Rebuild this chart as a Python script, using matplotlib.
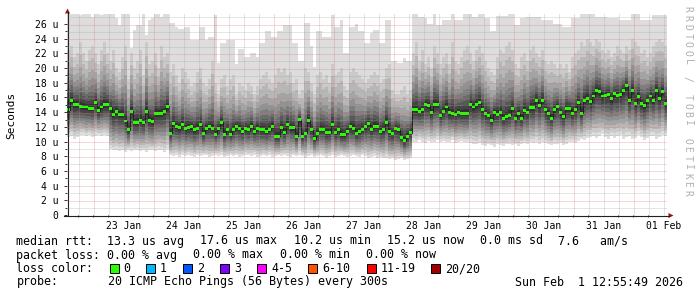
import numpy as np
import matplotlib
matplotlib.use('Agg')
import matplotlib.pyplot as plt
from matplotlib.patches import Rectangle, Polygon
from matplotlib.lines import Line2D

W, H = 697, 297
MONO = 'DejaVu Sans Mono'

# time in days since 22 Jan 2026 00:00, one column every 1.2 h
t_start = 0.5614
step = 0.05

median_us = [
    14.3, 15.6, 15.0, 15.0, 14.8, 14.7, 14.7, 14.55, 14.55, 15.3,
    14.2, 14.7, 15.0, 15.0, 14.5, 13.7, 14.1, 13.7, 13.7, 12.8,
    11.6, 14.1, 12.6, 12.6, 12.9, 12.6, 14.1, 12.9, 12.7, 13.8,
    13.8, 13.8, 14.1, 14.8, 11.1, 12.4, 12.1, 11.9, 12.3, 11.75,
    11.9, 12.0, 11.6, 11.8, 12.3, 11.1, 11.8, 12.0, 11.8, 11.0,
    11.8, 12.6, 11.0, 11.6, 11.0, 11.6, 12.1, 11.8, 11.4, 11.8,
    11.6, 12.1, 11.4, 11.8, 11.6, 11.6, 11.4, 11.6, 12.1, 10.75,
    10.7, 11.9, 11.2, 12.3, 11.9, 11.85, 10.75, 13.0, 10.7, 11.1,
    12.9, 11.6, 10.4, 11.05, 11.7, 11.7, 11.2, 11.2, 12.3, 11.2,
    11.6, 10.9, 10.9, 11.4, 12.0, 11.8, 11.1, 11.4, 11.7, 12.0,
    12.4, 11.7, 12.1, 12.1, 11.4, 11.6, 12.65, 11.4, 11.05, 11.8,
    11.6, 10.6, 10.1, 10.7, 11.2, 14.4, 14.4, 14.1, 14.3, 15.1,
    14.95, 14.0, 15.1, 15.1, 13.6, 14.1, 14.7, 13.9, 13.8, 13.7,
    14.0, 13.8, 13.8, 13.8, 15.1, 14.7, 15.0, 15.3, 14.3, 13.85,
    13.6, 12.9, 13.9, 13.7, 13.9, 13.2, 13.4, 13.6, 14.5, 13.2,
    13.85, 13.2, 14.2, 14.0, 14.65, 14.65, 15.65, 14.9, 15.65, 14.3,
    13.85, 13.2, 14.3, 14.75, 13.9, 13.4, 14.55, 14.55, 13.85, 14.3,
    15.3, 13.85, 15.65, 15.9, 15.4, 16.2, 17.0, 16.85, 16.2, 16.3,
    16.4, 15.8, 16.5, 16.3, 16.4, 17.0, 17.6, 15.65, 17.0, 15.2,
    16.1, 15.2, 14.9, 15.6, 16.2, 15.65, 17.0, 15.85, 16.75, 15.2,
]

min_us = [
    10.6, 10.8, 10.4, 10.6, 10.9, 10.9, 10.7, 10.9, 10.6, 10.8,
    10.9, 10.8, 10.9, 10.7, 9.0, 8.8, 8.9, 8.7, 8.8, 8.6,
    8.9, 8.7, 8.8, 8.9, 8.7, 8.8, 8.6, 8.9, 8.8, 8.7,
    8.9, 8.8, 8.6, 9.0, 8.1, 8.0, 8.2, 7.9, 8.1, 8.0,
    8.2, 8.0, 7.9, 8.1, 8.0, 8.2, 8.1, 7.9, 8.0, 8.2,
    8.0, 8.1, 7.9, 8.0, 8.2, 8.0, 8.1, 7.9, 8.0, 8.2,
    8.1, 8.0, 8.2, 7.9, 8.0, 8.1, 8.0, 8.2, 7.9, 8.0,
    8.1, 8.0, 8.2, 8.0, 7.9, 8.1, 8.0, 8.2, 8.0, 7.8,
    8.0, 8.1, 7.9, 8.0, 8.1, 8.0, 7.8, 8.0, 8.1, 7.9,
    8.0, 8.2, 8.0, 7.9, 8.0, 8.1, 8.0, 7.9, 8.1, 8.0,
    7.7, 7.9, 8.0, 7.8, 7.9, 7.7, 7.8, 7.6, 7.7, 7.5,
    7.6, 7.8, 7.5, 7.6, 7.7, 10.0, 9.9, 10.2, 10.0, 9.8,
    10.1, 10.0, 9.9, 10.2, 10.0, 10.1, 9.9, 10.0, 10.2, 9.8,
    10.0, 10.1, 9.9, 10.0, 9.8, 9.7, 9.6, 9.8, 9.5, 9.4,
    9.6, 9.5, 9.3, 9.6, 9.5, 9.4, 9.6, 9.7, 9.5, 9.6,
    9.4, 9.7, 9.8, 9.6, 9.9, 9.8, 10.0, 9.7, 9.9, 9.8,
    9.6, 9.5, 9.7, 9.6, 9.8, 9.5, 9.7, 9.9, 10.0, 9.8,
    10.1, 10.3, 10.2, 10.5, 10.6, 10.8, 10.5, 10.7, 11.0, 10.6,
    10.4, 10.8, 10.5, 10.7, 10.9, 10.4, 10.6, 10.8, 10.3, 10.5,
    10.9, 10.6, 10.2, 10.5, 10.7, 10.8, 10.4, 10.6, 10.9, 10.7,
]

# second highest ping of the 20
high2_us = [
    22.5, 23.0, 21.5, 22.0, 23.5, 22.0, 21.0, 22.5, 23.0, 22.0,
    20.5, 22.5, 23.5, 22.0, 21.0, 22.5, 20.0, 19.5, 21.5, 23.0,
    18.5, 22.0, 20.0, 21.0, 22.5, 19.0, 23.5, 20.5, 21.0, 22.0,
    20.0, 23.0, 21.5, 22.0, 19.5, 20.5, 19.0, 18.0, 20.0, 19.5,
    18.5, 17.5, 18.0, 19.5, 20.0, 18.0, 17.5, 18.5, 21.0, 18.0,
    16.5, 18.5, 19.0, 17.5, 18.5, 19.0, 16.5, 18.0, 17.5, 17.0,
    18.0, 17.5, 16.5, 17.5, 18.5, 19.0, 19.5, 18.5, 18.0, 19.0,
    20.0, 19.5, 20.0, 19.0, 19.5, 18.0, 18.5, 16.5, 17.0, 20.0,
    19.5, 18.0, 16.5, 19.0, 19.5, 18.5, 19.0, 18.0, 20.5, 19.0,
    19.5, 20.0, 17.5, 17.0, 19.5, 20.0, 19.5, 19.0, 18.5, 18.0,
    18.5, 19.0, 19.5, 19.0, 18.0, 18.5, 20.0, 20.5, 17.0, 16.5,
    16.5, 17.0, 17.5, 16.5, 17.0, 22.0, 23.5, 21.0, 22.5, 20.5,
    21.5, 20.0, 23.0, 22.0, 20.5, 21.5, 22.0, 20.5, 23.5, 21.0,
    20.5, 21.5, 22.5, 23.0, 22.0, 21.0, 22.5, 23.0, 22.0, 21.0,
    20.0, 19.5, 19.0, 21.5, 22.5, 22.0, 23.0, 23.5, 22.5, 20.5,
    20.0, 21.5, 22.0, 21.0, 22.5, 23.0, 22.0, 21.5, 22.5, 21.0,
    20.5, 21.0, 20.5, 20.0, 20.5, 20.0, 20.5, 19.5, 21.5, 22.0,
    22.5, 23.5, 23.0, 24.0, 23.5, 23.0, 24.0, 23.5, 22.5, 22.0,
    22.5, 21.5, 22.0, 23.0, 22.5, 22.0, 23.0, 22.5, 24.0, 23.5,
    23.0, 22.0, 22.5, 21.5, 22.0, 23.0, 23.5, 24.0, 23.5, 23.0,
]

max_us = [
    27.4, 27.4, 27.4, 27.4, 27.2, 27.4, 27.4, 27.4, 27.0, 27.4,
    27.4, 27.2, 27.4, 27.4, 27.4, 27.4, 26.8, 25.9, 27.4, 27.4,
    27.4, 22.7, 25.2, 25.9, 25.9, 27.4, 24.5, 26.5, 26.8, 27.4,
    27.4, 27.0, 27.4, 27.4, 26.1, 26.1, 25.6, 25.3, 25.3, 25.6,
    25.6, 23.8, 23.8, 23.8, 25.6, 25.6, 23.8, 24.2, 24.2, 27.2,
    20.7, 23.4, 23.4, 23.8, 23.8, 23.8, 20.5, 22.6, 22.6, 21.5,
    21.5, 22.0, 22.0, 21.5, 23.4, 23.4, 25.0, 25.0, 24.2, 24.2,
    25.0, 25.0, 25.9, 25.9, 25.9, 23.4, 23.4, 20.9, 20.9, 26.1,
    26.1, 23.0, 20.2, 25.0, 25.0, 24.2, 24.2, 24.2, 27.2, 25.6,
    25.6, 26.5, 22.0, 22.0, 25.6, 25.6, 26.0, 25.0, 25.0, 23.4,
    23.4, 24.8, 25.2, 25.2, 23.4, 23.4, 26.5, 26.5, 20.9, 20.9,
    20.7, 20.7, 21.4, 20.9, 20.9, 27.4, 27.4, 27.0, 27.0, 26.8,
    26.0, 26.0, 27.4, 25.9, 25.9, 26.5, 26.5, 26.5, 27.4, 26.5,
    26.5, 26.5, 27.4, 27.4, 27.4, 27.0, 27.0, 27.4, 27.4, 26.8,
    26.8, 25.0, 25.0, 27.1, 27.1, 27.1, 27.1, 27.4, 27.4, 25.9,
    25.9, 26.8, 26.8, 27.0, 27.0, 27.0, 27.0, 27.0, 26.5, 26.5,
    26.5, 26.5, 26.0, 26.0, 26.0, 25.6, 25.6, 25.6, 26.8, 26.8,
    26.8, 27.4, 27.4, 27.4, 27.4, 27.4, 27.0, 27.0, 27.0, 27.0,
    26.8, 26.8, 26.8, 26.8, 26.5, 26.5, 26.5, 26.5, 27.4, 27.4,
    27.4, 26.5, 26.5, 26.5, 26.5, 27.2, 27.2, 27.2, 27.2, 27.2,
]

day_labels = ['23 Jan', '24 Jan', '25 Jan', '26 Jan', '27 Jan',
              '28 Jan', '29 Jan', '30 Jan', '31 Jan', '01 Feb']
y_tick_values = list(range(0, 27, 2))
y_tick_labels = ['0'] + ['%d u' % v for v in range(2, 27, 2)]

loss_labels = ['0', '1', '2', '3', '4-5', '6-10', '11-19', '20/20']
loss_colors = ['#26ff00', '#00b8ff', '#0059ff', '#7e00ff',
               '#ff00ff', '#ff5500', '#ff0000', '#a10000']

rtt_items = ['median rtt:  13.3 us avg', '17.6 us max', '10.2 us min',
             '15.2 us now', '0.0 ms sd', '7.6   am/s']
loss_items = ['packet loss: 0.00 % avg', '0.00 % max', '0.00 % min', '0.00 % now']
probe_text = '20 ICMP Echo Pings (56 Bytes) every 300s'
stamp_text = 'Sun Feb  1 12:55:49 2026'


def fx(px):
    return px / W


def fy(py):
    return 1 - py / H


med = np.array(median_us)
lo = np.array(min_us)
hi2 = np.array(high2_us)
hi = np.array(max_us)
n = len(med)
edges = t_start + step * np.arange(n + 1)


def ext(a):
    return np.append(a, a[-1])


fig = plt.figure(figsize=(W / 100, H / 100), dpi=100)
fig.patch.set_facecolor('white')
ax = fig.add_axes([fx(67), fy(215), 600 / W, 201.5 / H])
ax.set_xlim(t_start, t_start + 10)
ax.set_ylim(0, 27.43)
for s in ax.spines.values():
    s.set_visible(False)

# smoke: 10 nested bands, outermost lightest
lo_frac = [1.0, 0.9, 0.8, 0.7, 0.6, 0.5, 0.4, 0.3, 0.2, 0.1]
up_frac = [None, 1.0, 0.8, 0.62, 0.48, 0.37, 0.28, 0.2, 0.13, 0.07]
for k in range(10):
    g = int(190 / 10 * (10 - (k + 1))) + 50
    col = '#%02x%02x%02x' % (g, g, g)
    lower = med - (med - lo) * lo_frac[k]
    upper = hi if k == 0 else med + (hi2 - med) * up_frac[k]
    ax.fill_between(edges, ext(lower), ext(upper), step='post',
                    color=col, lw=0, zorder=1)

# median
ax.step(edges, ext(med), where='post', color='#202020', lw=0.7, zorder=3)
ax.fill_between(edges, ext(med - 0.2), ext(med + 0.2), step='post',
                color=loss_colors[0], lw=0, zorder=4)

# dotted grid snapped to pixel centres (display coords), over the smoke
x_left, x_right = 67, 667
y_bot, y_top = H - 215, H - 13.5
xs_grid = np.arange(0.75, t_start + 10, 0.25)
for xv in xs_grid:
    major = abs(xv - round(xv)) < 1e-6
    xd = np.floor(ax.transData.transform((xv, 0))[0]) + 0.5
    fig.add_artist(Line2D([xd, xd], [y_bot, y_top], transform=None,
                          color='#e07070' if major else '#a0a0a0', alpha=0.55,
                          lw=0.72, linestyle=(0, (1, 1)), zorder=5))
for yv in range(1, 28):
    major = yv % 2 == 0
    yd = np.floor(ax.transData.transform((t_start, yv))[1]) + 0.5
    if yd > y_top:
        continue
    fig.add_artist(Line2D([x_left, x_right], [yd, yd], transform=None,
                          color='#e07070' if major else '#a0a0a0', alpha=0.55,
                          lw=0.72, linestyle=(0, (1, 1)), zorder=5))

# ticks and labels
ax.set_xticks([1.5 + k for k in range(len(day_labels))])
ax.set_xticklabels(day_labels, family=MONO, fontsize=7)
ax.set_xticks(xs_grid, minor=True)
ax.tick_params(axis='x', which='major', length=0, pad=4.6)
ax.tick_params(axis='x', which='minor', length=1.6, width=0.7, color='#303030')
ax.set_yticks(y_tick_values)
ax.set_yticklabels(y_tick_labels, family=MONO, fontsize=7)
ax.set_yticks(range(1, 27, 2), minor=True)
ax.tick_params(axis='y', which='major', length=2, width=0.7, pad=4.3, color='#303030')
ax.tick_params(axis='y', which='minor', length=1.4, width=0.7, color='#303030')

# axes lines with arrows
fig.add_artist(Line2D([fx(67.5), fx(67.5)], [fy(215.5), fy(12)], color='#202020', lw=0.8))
fig.add_artist(Line2D([fx(64), fx(669)], [fy(215.5), fy(215.5)], color='#202020', lw=0.8))
fig.add_artist(Polygon([(fx(65), fy(13.5)), (fx(70), fy(13.5)), (fx(67.5), fy(8.5))],
                       closed=True, color='#a01010', lw=0))
fig.add_artist(Polygon([(fx(668.5), fy(213)), (fx(668.5), fy(218)), (fx(673.5), fy(215.5))],
                       closed=True, color='#a01010', lw=0))

fig.text(fx(11), fy(115), 'Seconds', rotation=90, family=MONO, fontsize=8,
         ha='center', va='center')

for k, ch in enumerate('RRDTOOL / TOBI OETIKER'):
    fig.text(fx(687.5), fy(9.4 + 8.75 * k), ch, rotation=270, family=MONO,
             fontsize=7, color='#b0b0b0', ha='center', va='center')

# legend area
FS = 8.37
row_y = [241, 255, 268.5, 282]
for x0, s in zip([16.5, 200.5, 293.5, 386.5, 479.5, 558.5], rtt_items):
    fig.text(fx(x0), fy(row_y[0]), s, family=MONO, fontsize=FS, va='center')
for x0, s in zip([16.5, 193.5, 279.5, 365.5], loss_items):
    fig.text(fx(x0), fy(row_y[1]), s, family=MONO, fontsize=FS, va='center')
fig.text(fx(16.5), fy(row_y[2]), 'loss color:', family=MONO, fontsize=FS, va='center')
box_x = [109.5, 146, 183, 220, 257, 308, 367, 431]
for bx, lab, c in zip(box_x, loss_labels, loss_colors):
    fig.add_artist(Rectangle((fx(bx), fy(row_y[2] + 4.5)), 9 / W, 9 / H,
                             facecolor=c, edgecolor='black', lw=0.7))
    fig.text(fx(bx + 14), fy(row_y[2]), lab, family=MONO, fontsize=FS, va='center')
fig.text(fx(16.5), fy(row_y[3]), 'probe:', family=MONO, fontsize=FS, va='center')
fig.text(fx(108.5), fy(row_y[3]), probe_text, family=MONO, fontsize=FS, va='center')
fig.text(fx(683), fy(row_y[3]), stamp_text, family=MONO, fontsize=FS, va='center', ha='right')

fig.savefig('out.png', dpi=100)
